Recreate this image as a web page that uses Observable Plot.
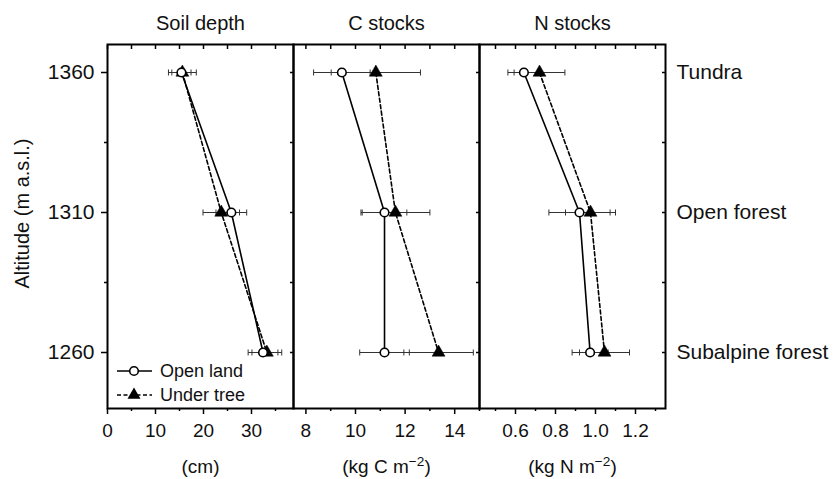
<!DOCTYPE html>
<html>
<head>
<meta charset="utf-8">
<script src="https://cdn.jsdelivr.net/npm/d3@7"></script>
<script src="https://cdn.jsdelivr.net/npm/@observablehq/plot@0.6"></script>
<style>
  html, body { margin: 0; padding: 0; background: white; }
  #chart { position: relative; width: 833px; height: 479px; }
  #chart svg { position: absolute; left: 0; top: 0; }
</style>
</head>
<body>
<div id="chart"></div>
<script>
// ---- data ----
const altitudes = [1360, 1310, 1260];
const sites = ["Tundra", "Open forest", "Subalpine forest"];
const seriesNames = ["Open land", "Under tree"];

const depthOpen = [15.4, 25.8, 32.4];
const depthOpenErr = [2.0, 3.2, 3.1];
const depthTree = [15.6, 23.7, 33.2];
const depthTreeErr = [2.9, 3.8, 3.1];

const cOpen = [9.45, 11.17, 11.17];
const cOpenErr = [1.14, 0.9, 1.0];
const cTree = [10.82, 11.61, 13.35];
const cTreeErr = [1.8, 1.39, 1.4];

const nOpen = [0.642, 0.92, 0.973];
const nOpenErr = [0.08, 0.153, 0.09];
const nTree = [0.72, 0.975, 1.045];
const nTreeErr = [0.127, 0.125, 0.125];

const panelTitles = ["Soil depth", "C stocks", "N stocks"];
const unitLabels = ["(cm)", "(kg C m^-2)", "(kg N m^-2)"];

const depthMajor = [0, 10, 20, 30], depthMinor = [5, 15, 25, 35];
const cMajor = [8, 10, 12, 14], cMinor = [9, 11, 13, 15];
const nMajor = [0.6, 0.8, 1.0, 1.2], nMinor = [0.5, 0.7, 0.9, 1.1, 1.3];
const altMajor = [1260, 1310, 1360], altMinor = [1285, 1335];

const FONT = "'Liberation Sans', Arial, Helvetica, sans-serif";
const W = 833, H = 479;
const INK = "#111";

function rows(vals, errs) {
  return altitudes.map((a, i) => ({alt: a, v: vals[i], lo: vals[i] - errs[i], hi: vals[i] + errs[i]}));
}

const capSymbol = { draw(ctx, size) { const h = Math.sqrt(size) / 2; ctx.moveTo(0, -h); ctx.lineTo(0, h); } };

function panel({open, tree, domain, major, minor, fmt, title, unit, ml, mr, first, last}) {
  const allTicks = [...major, ...minor].sort((a, b) => a - b);
  const err = {stroke: "#333", strokeWidth: 1};
  const cap = {symbol: capSymbol, r: 3.4, stroke: "#333", strokeWidth: 1};
  const marks = [
    // error bars
    Plot.link(tree, {x1: "lo", x2: "hi", y1: "alt", y2: "alt", ...err}),
    Plot.link(open, {x1: "lo", x2: "hi", y1: "alt", y2: "alt", ...err}),
    Plot.dot(tree, {x: "lo", y: "alt", ...cap}),
    Plot.dot(tree, {x: "hi", y: "alt", ...cap}),
    Plot.dot(open, {x: "lo", y: "alt", ...cap}),
    Plot.dot(open, {x: "hi", y: "alt", ...cap}),
    // lines
    Plot.line(tree, {x: "v", y: "alt", stroke: "black", strokeWidth: 1.6, strokeDasharray: "4,2.5"}),
    Plot.line(open, {x: "v", y: "alt", stroke: "black", strokeWidth: 1.6}),
    // markers
    Plot.dot(tree, {x: "v", y: "alt", symbol: "triangle", r: 4.8, fill: "black", stroke: "black", strokeWidth: 0.5}),
    Plot.dot(open, {x: "v", y: "alt", r: 4.3, fill: "white", stroke: "black", strokeWidth: 1.6}),
    // axes
    Plot.axisX({anchor: "bottom", ticks: major, tickSize: 6, tickPadding: 9, tickFormat: fmt, fontSize: 19, label: null, strokeWidth: 1.5, fill: INK}),
    Plot.axisX({anchor: "bottom", ticks: minor, tickSize: 3, tickFormat: () => "", label: null, strokeWidth: 1.5}),
    Plot.axisX({anchor: "top", ticks: allTicks, tickSize: -4, tickFormat: () => "", label: null, strokeWidth: 1.5}),
    Plot.axisY({anchor: "right", ticks: [...altMajor, ...altMinor], tickSize: -4, tickFormat: () => "", label: null, strokeWidth: 1.5}),
    Plot.frame({stroke: "black", strokeWidth: 2}),
    Plot.text([title], {frameAnchor: "top", lineAnchor: "middle", textAnchor: "middle", dy: -21, fontSize: 20, fill: INK}),
    Plot.text([unit], {frameAnchor: "bottom", lineAnchor: "middle", textAnchor: "middle", dy: 58, fontSize: 19, fill: INK})
  ];
  if (first) {
    marks.push(
      Plot.axisY({anchor: "left", ticks: altMajor, tickSize: 6, tickPadding: 7, tickFormat: "d", fontSize: 21, label: null, strokeWidth: 1.5, fill: INK}),
      Plot.axisY({anchor: "left", ticks: altMinor, tickSize: 3, tickFormat: () => "", label: null, strokeWidth: 1.5}),
      Plot.text(["Altitude (m a.s.l.)"], {frameAnchor: "left", textAnchor: "middle", lineAnchor: "middle", dx: -85, dy: -13, rotate: -90, fontSize: 20, fill: INK})
    );
  }
  if (last) {
    marks.push(
      Plot.text(altitudes.map((a, i) => ({alt: a, s: sites[i]})), {x: () => domain[1], y: "alt", text: "s", textAnchor: "start", dx: 11, fontSize: 21, fill: INK})
    );
  }
  return Plot.plot({
    width: W, height: H,
    marginLeft: ml, marginRight: mr, marginTop: 44, marginBottom: 71,
    x: {domain, axis: null},
    y: {domain: [1240, 1370], axis: null},
    style: {fontFamily: FONT, fontSize: "18px", background: "transparent", color: "black", overflow: "visible"},
    marks
  });
}

const chart = document.getElementById("chart");
const p1 = panel({open: rows(depthOpen, depthOpenErr), tree: rows(depthTree, depthTreeErr), domain: [0, 38.75], major: depthMajor, minor: depthMinor, fmt: "d", title: panelTitles[0], unit: unitLabels[0], ml: 107, mr: W - 293, first: true});
const p2 = panel({open: rows(cOpen, cOpenErr), tree: rows(cTree, cTreeErr), domain: [7.5, 15], major: cMajor, minor: cMinor, fmt: "d", title: panelTitles[1], unit: unitLabels[1], ml: 293, mr: W - 479});
const p3 = panel({open: rows(nOpen, nOpenErr), tree: rows(nTree, nTreeErr), domain: [0.42, 1.35], major: nMajor, minor: nMinor, fmt: ".1f", title: panelTitles[2], unit: unitLabels[2], ml: 479, mr: W - 665, last: true});
chart.append(p1, p2, p3);

// superscripts in unit labels: "m^-2" -> m with raised "−2"
[p2, p3].forEach(p => {
  d3.select(p).selectAll("text").each(function () {
    const t = this.textContent;
    const k = t.indexOf("^-2");
    if (k < 0) return;
    const el = d3.select(this);
    el.text(null);
    el.append("tspan").text(t.slice(0, k));
    el.append("tspan").attr("dy", "-0.45em").attr("font-size", "0.72em").text("\u22122");
    el.append("tspan").attr("dy", "0.32em").text(t.slice(k + 3));
  });
});

// legend inside first panel (bottom-left)
const lg = d3.select(p1).append("g").attr("transform", "translate(117,371)")
  .attr("font-family", FONT).attr("font-size", 18).attr("fill", INK).attr("text-anchor", "start");
seriesNames.forEach((name, i) => {
  const g = lg.append("g").attr("transform", `translate(0,${i * 24})`);
  g.append("line").attr("x1", 0).attr("x2", 35).attr("stroke", "black").attr("stroke-width", 1.6)
    .attr("stroke-dasharray", i === 1 ? "4,2.5" : null);
  if (i === 0) g.append("circle").attr("cx", 17).attr("r", 4.3).attr("fill", "white").attr("stroke", "black").attr("stroke-width", 1.6);
  else g.append("path").attr("transform", "translate(17,0)").attr("d", d3.symbol(d3.symbolTriangle, 73)()).attr("fill", "black");
  g.append("text").attr("x", 43).attr("dy", "0.35em").attr("text-anchor", "start").text(name);
});
</script>
</body>
</html>
